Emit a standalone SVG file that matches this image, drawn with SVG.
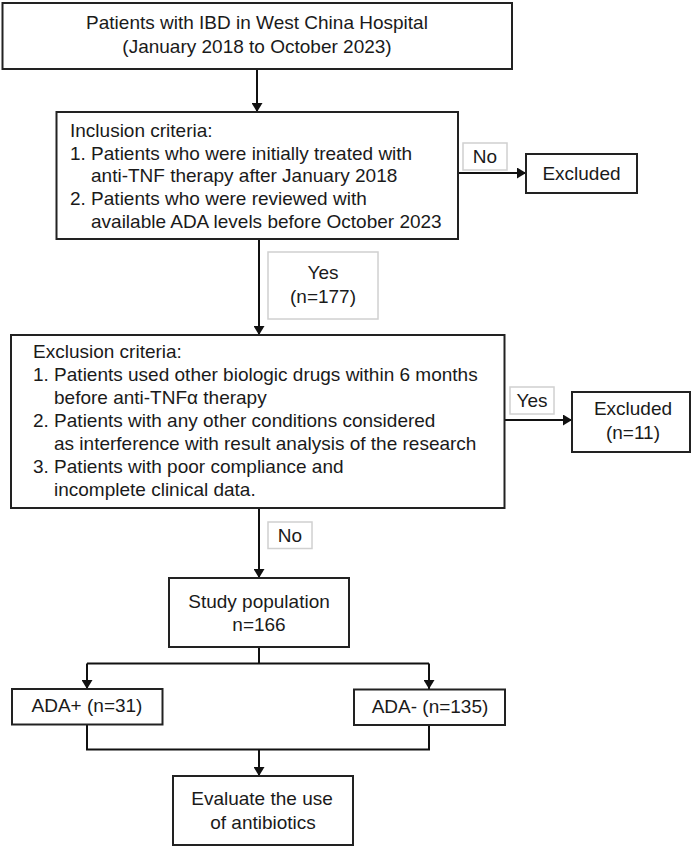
<svg xmlns="http://www.w3.org/2000/svg" width="692" height="847" viewBox="0 0 692 847">
<defs>
<marker id="arr" viewBox="0 0 9 11" refX="9" refY="5.5" markerWidth="9" markerHeight="11" markerUnits="userSpaceOnUse" orient="auto">
<path d="M0,0 L9,5.5 L0,11 Z" fill="#111"/>
</marker>
<style>
.box{fill:#fff;stroke:#222;stroke-width:2}
.lbl{fill:#fff;stroke:#d0d0d0;stroke-width:1.5}
.t{font-family:"Liberation Sans",Arial,sans-serif;font-size:19px;fill:#1a1a1a}
.c{text-anchor:middle}
.ln{fill:none;stroke:#111;stroke-width:2}
</style>
</defs>
<rect width="692" height="847" fill="#fff"/>
<g id="connectors">
<line class="ln" x1="257" y1="69" x2="257" y2="112" marker-end="url(#arr)"/>
<line class="ln" x1="458" y1="173" x2="526" y2="173" marker-end="url(#arr)"/>
<line class="ln" x1="259" y1="239" x2="259" y2="335" marker-end="url(#arr)"/>
<line class="ln" x1="504.5" y1="420" x2="572" y2="420" marker-end="url(#arr)"/>
<line class="ln" x1="259" y1="508" x2="259" y2="578" marker-end="url(#arr)"/>
<polyline class="ln" points="259,647 259,663.5"/>
<polyline class="ln" points="87,663.5 429,663.5"/>
<line class="ln" x1="87" y1="663.5" x2="87" y2="689" marker-end="url(#arr)"/>
<line class="ln" x1="429" y1="663.5" x2="429" y2="689" marker-end="url(#arr)"/>
<polyline class="ln" points="87,724.5 87,749.5 429,749.5 429,725"/>
<line class="ln" x1="259" y1="749.5" x2="259" y2="776" marker-end="url(#arr)"/>
</g>
<g id="source">
<rect class="box" x="2.5" y="3" width="509.5" height="66"/>
<text class="t c" x="257" y="29">Patients with IBD in West China Hospital</text>
<text class="t c" x="257" y="53">(January 2018 to October 2023)</text>
</g>
<g id="inclusion">
<rect class="box" x="56.5" y="112" width="401.5" height="127"/>
<text class="t" x="70" y="137">Inclusion criteria:</text>
<text class="t" x="70" y="159.5">1. Patients who were initially treated with</text>
<text class="t" x="91" y="182">anti-TNF therapy after January 2018</text>
<text class="t" x="70" y="204.5">2. Patients who were reviewed with</text>
<text class="t" x="91" y="227.5">available ADA levels before October 2023</text>
</g>
<g id="label-no1">
<rect class="lbl" x="463" y="143" width="44" height="27"/>
<text class="t c" x="485" y="163">No</text>
</g>
<g id="excluded1">
<rect class="box" x="526" y="154" width="111" height="39"/>
<text class="t c" x="581.5" y="180">Excluded</text>
</g>
<g id="label-yes177">
<rect class="lbl" x="268" y="252" width="110" height="67"/>
<text class="t c" x="323" y="279">Yes</text>
<text class="t c" x="323" y="303">(n=177)</text>
</g>
<g id="exclusion">
<rect class="box" x="11" y="335" width="493.5" height="173"/>
<text class="t" x="33" y="357.5">Exclusion criteria:</text>
<text class="t" x="33" y="380.5">1. Patients used other biologic drugs within 6 months</text>
<text class="t" x="54" y="403.5">before anti-TNFα therapy</text>
<text class="t" x="33" y="426.5">2. Patients with any other conditions considered</text>
<text class="t" x="54" y="449.5">as interference with result analysis of the research</text>
<text class="t" x="33" y="472.5">3. Patients with poor compliance and</text>
<text class="t" x="54" y="495.5">incomplete clinical data.</text>
</g>
<g id="label-yes2">
<rect class="lbl" x="510" y="387" width="44" height="27"/>
<text class="t c" x="532" y="407">Yes</text>
</g>
<g id="excluded2">
<rect class="box" x="572" y="392" width="118" height="60"/>
<text class="t c" x="633" y="415">Excluded</text>
<text class="t c" x="633" y="438.5">(n=11)</text>
</g>
<g id="label-no2">
<rect class="lbl" x="268" y="522" width="44" height="26.5"/>
<text class="t c" x="290" y="542">No</text>
</g>
<g id="study">
<rect class="box" x="169" y="578" width="180" height="69"/>
<text class="t c" x="259" y="608">Study population</text>
<text class="t c" x="259" y="631">n=166</text>
</g>
<g id="ada-pos">
<rect class="box" x="12" y="689" width="150.5" height="35.5"/>
<text class="t c" x="87" y="712">ADA+ (n=31)</text>
</g>
<g id="ada-neg">
<rect class="box" x="354" y="689.5" width="151" height="35.5"/>
<text class="t c" x="430" y="712.5">ADA- (n=135)</text>
</g>
<g id="evaluate">
<rect class="box" x="173" y="776" width="180" height="69"/>
<text class="t c" x="262" y="805">Evaluate the use</text>
<text class="t c" x="263" y="828.5">of antibiotics</text>
</g>
</svg>
